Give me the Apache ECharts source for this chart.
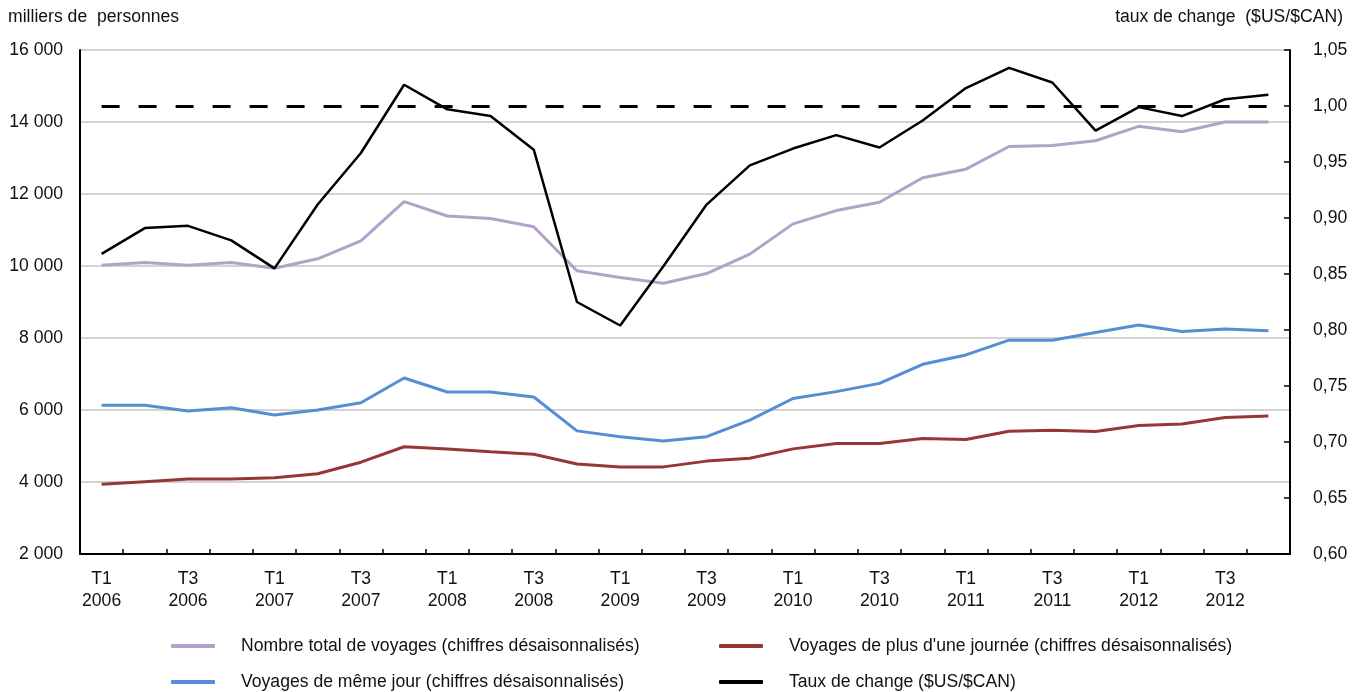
<!DOCTYPE html>
<html>
<head>
<meta charset="utf-8">
<script src="https://cdn.jsdelivr.net/npm/echarts@6/dist/echarts.min.js"></script>
<style>
html,body{margin:0;padding:0;background:#fff;}
#chart{width:1362px;height:692px;}
</style>
</head>
<body>
<div id="chart"></div>
<script>
const categories = [
  'T1\n2006','T2\n2006','T3\n2006','T4\n2006',
  'T1\n2007','T2\n2007','T3\n2007','T4\n2007',
  'T1\n2008','T2\n2008','T3\n2008','T4\n2008',
  'T1\n2009','T2\n2009','T3\n2009','T4\n2009',
  'T1\n2010','T2\n2010','T3\n2010','T4\n2010',
  'T1\n2011','T2\n2011','T3\n2011','T4\n2011',
  'T1\n2012','T2\n2012','T3\n2012','T4\n2012'
];
const totalTrips = [10020, 10100, 10020, 10100, 9940, 10200, 10700, 11790, 11390, 11320, 11090, 9870, 9680, 9520, 9790, 10330, 11170, 11540, 11770, 12450, 12690, 13320, 13350, 13480, 13880, 13730, 14000, 14000];
const overnightTrips = [3940, 4010, 4080, 4080, 4120, 4230, 4550, 4980, 4920, 4840, 4770, 4500, 4420, 4420, 4580, 4660, 4920, 5070, 5070, 5210, 5180, 5410, 5440, 5400, 5570, 5610, 5790, 5830];
const sameDayTrips = [6130, 6130, 5970, 6060, 5860, 6000, 6200, 6890, 6500, 6500, 6360, 5420, 5260, 5140, 5260, 5720, 6320, 6510, 6740, 7270, 7530, 7940, 7940, 8150, 8360, 8180, 8250, 8200];
const exchangeRate = [0.868, 0.891, 0.893, 0.880, 0.855, 0.912, 0.958, 1.019, 0.997, 0.991, 0.961, 0.825, 0.804, 0.857, 0.912, 0.947, 0.962, 0.974, 0.963, 0.987, 1.016, 1.034, 1.021, 0.978, 0.999, 0.991, 1.006, 1.010];
const parityLevel = 1.00;
const seriesNames = [
  'Nombre total de voyages (chiffres désaisonnalisés)',
  "Voyages de plus d'une journée (chiffres désaisonnalisés)",
  'Voyages de même jour (chiffres désaisonnalisés)',
  'Taux de change ($US/$CAN)'
];
const leftAxisTitle = 'milliers de  personnes';
const rightAxisTitle = 'taux de change  ($US/$CAN)';

const FONT = '"Liberation Sans",Arial,sans-serif';
const FS = 17.6;
const colors = ['#b3a2c7', '#953735', '#558ed5', '#000000'];

const chart = echarts.init(document.getElementById('chart'), null, {renderer: 'canvas'});

function legendAt(name, left, top) {
  return {
    data: [name], left: left, top: top, orient: 'horizontal',
    icon: 'roundRect', itemWidth: 44, itemHeight: 4, selectedMode: false,
    textStyle: {fontFamily: FONT, fontSize: FS, color: '#111', padding: [0, 0, 0, 21]}
  };
}

const option = {
  animation: false,
  backgroundColor: '#ffffff',
  color: colors,
  grid: {left: 80, right: 72, top: 50, bottom: 138, containLabel: false},
  graphic: [
    {type: 'text', left: 8, top: 8, style: {text: leftAxisTitle, font: FS + 'px ' + FONT, fill: '#111'}},
    {type: 'text', right: 19, top: 8, style: {text: rightAxisTitle, font: FS + 'px ' + FONT, fill: '#111'}}
  ],
  legend: [
    legendAt(seriesNames[0], 166, 632),
    legendAt(seriesNames[1], 714, 632),
    legendAt(seriesNames[2], 166, 668),
    legendAt(seriesNames[3], 714, 668)
  ],
  xAxis: {
    type: 'category', data: categories, boundaryGap: true,
    axisLine: {show: true, lineStyle: {color: '#000', width: 2}},
    axisTick: {show: true, inside: true, length: 5, interval: 0, alignWithLabel: false, lineStyle: {color: '#000', width: 1.5}},
    axisLabel: {interval: 1, margin: 14, fontFamily: FONT, fontSize: FS, color: '#111', lineHeight: 22},
    splitLine: {show: false}
  },
  yAxis: [
    {
      type: 'value', min: 2000, max: 16000, interval: 2000, position: 'left',
      axisLine: {show: true, lineStyle: {color: '#000', width: 2}},
      axisTick: {show: false},
      axisLabel: {margin: 17, fontFamily: FONT, fontSize: FS, color: '#111',
        formatter: v => String(v).replace(/\B(?=(\d{3})+(?!\d))/g, ' ')},
      splitLine: {show: true, lineStyle: {color: '#c4c4c4', width: 1.5}}
    },
    {
      type: 'value', min: 0.60, max: 1.05, interval: 0.05, position: 'right',
      axisLine: {show: true, lineStyle: {color: '#000', width: 2}},
      axisTick: {show: true, inside: true, length: 6, lineStyle: {color: '#000', width: 1.5}},
      axisLabel: {margin: 23, fontFamily: FONT, fontSize: FS, color: '#111',
        formatter: v => v.toFixed(2).replace('.', ',')},
      splitLine: {show: false}
    }
  ],
  series: [
    {name: seriesNames[0], type: 'line', yAxisIndex: 0, data: totalTrips, symbol: 'none',
      lineStyle: {width: 3, color: colors[0]}, itemStyle: {color: colors[0]}},
    {name: seriesNames[1], type: 'line', yAxisIndex: 0, data: overnightTrips, symbol: 'none',
      lineStyle: {width: 3, color: colors[1]}, itemStyle: {color: colors[1]}},
    {name: seriesNames[2], type: 'line', yAxisIndex: 0, data: sameDayTrips, symbol: 'none',
      lineStyle: {width: 3, color: colors[2]}, itemStyle: {color: colors[2]}},
    {name: seriesNames[3], type: 'line', yAxisIndex: 1, data: exchangeRate, symbol: 'none',
      lineStyle: {width: 2.5, color: colors[3]}, itemStyle: {color: colors[3]},
      markLine: {
        silent: true, symbol: ['none', 'none'], label: {show: false},
        lineStyle: {color: '#000', width: 3, type: [18, 19]},
        emphasis: {disabled: true},
        data: [[{coord: [0, parityLevel]}, {coord: [categories.length - 1, parityLevel]}]]
      }}
  ]
};
chart.setOption(option);
</script>
</body>
</html>
